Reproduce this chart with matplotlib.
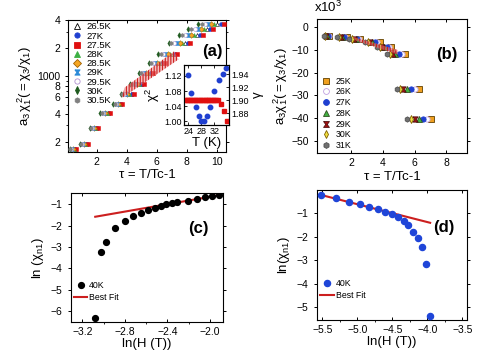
import matplotlib.pyplot as plt
from matplotlib.path import Path
from matplotlib.lines import Line2D
from matplotlib.ticker import FixedLocator, NullFormatter, MultipleLocator

plt.rcParams['font.family'] = ['Liberation Sans', 'DejaVu Sans']
plt.rcParams['mathtext.fontset'] = 'custom'
plt.rcParams['mathtext.rm'] = 'Liberation Sans'
plt.rcParams['mathtext.it'] = 'Liberation Sans:italic'
plt.rcParams['mathtext.bf'] = 'Liberation Sans:bold'
plt.rcParams['hatch.linewidth'] = 0.8

# ---------------- data ----------------
# (a) a3*chi1^2 vs tau, shared levels, one tau list per temperature
a_levels = [167, 192, 284, 407, 512, 648, 836, 1084, 1380, 1750, 2300, 2750, 3190, 3620]
tau_a = {
    '26.5K': [0.51, 1.26, 1.94, 2.73, 3.55, 4.26, 4.92, 5.52, 6.29, 7.06, 7.88, 8.65, 9.36, 10.04],
    '27K':   [0.57, 1.32, 2.01, 2.82, 3.63, 4.37, 5.04, 5.64, 6.43, 7.22, 8.06, 8.85, 9.57, 10.25],
    '27.5K': [0.62, 1.38, 2.08, 2.90, 3.70, 4.48, 5.16, 5.76, 6.57, 7.38, 8.24, 9.05, 9.78, 10.46],
    '28K':   [0.46, 1.20, 1.87, 2.65, 3.48, 4.15, 4.80, 5.40, 6.15, 6.90, 7.70, 8.45, 9.15, 9.83],
    '28.5K': [0.40, 1.14, 1.80, 2.56, 3.40, 4.04, 4.68, 5.28, 6.01, 6.74, 7.52, 8.25, 8.94, 9.62],
    '29K':   [0.35, 1.08, 1.73, 2.48, 3.33, 3.93, 4.56, 5.16, 5.87, 6.58, 7.34, 8.05, 8.73, 9.41],
    '29.5K': [0.29, 1.02, 1.66, 2.39, 3.25, 3.82, 4.44, 5.04, 5.73, 6.42, 7.16, 7.85, 8.52, 9.20],
    '30K':   [0.18, 0.90, 1.52, 2.22, 3.10, 3.60, 4.20, 4.80, 5.45, 6.10, 6.80, 7.45, 8.10, 8.78],
    '30.5K': [0.24, 0.96, 1.59, 2.31, 3.18, 3.71, 4.32, 4.92, 5.59, 6.26, 6.98, 7.65, 8.31, 8.99],
}
band_a_tau = [3.68, 3.85, 7.15, 7.45]
band_a_val = [590, 760, 1850, 1520]

# (a) inset: chi^2 and gamma vs T
inset_T_chi = [24.0, 25.0, 26.4, 27.2, 28.0, 28.8, 29.6, 30.8, 32.0, 33.4, 34.6, 35.6]
inset_chi = [1.123, 1.075, 1.038, 1.015, 1.002, 1.002, 1.015, 1.039, 1.081, 1.109, 1.125, 1.141]
inset_T_gam = [23.0, 23.5, 24.0, 24.5, 25.0, 25.5, 26.0, 26.5, 27.0, 27.5, 28.0, 28.5,
               29.0, 29.5, 30.0, 30.5, 31.0, 31.5, 32.0, 32.5, 33.0, 34.0, 34.8, 35.8]
inset_gam = [1.900] * 21 + [1.895, 1.883, 1.868]

# (b) a3*chi1^2 (x10^3) vs tau
b_levels = [-3.8, -4.5, -5.0, -6.5, -8.8, -11.8, -27.2, -40.4]
tau_b = {
    '25K': [0.65, 1.75, 2.60, 3.80, 4.55, 5.40, 6.25, 7.05],
    '26K': [0.60, 1.65, 2.50, 3.65, 4.40, 5.20, 6.00, 6.80],
    '27K': [0.55, 1.55, 2.40, 3.50, 4.25, 5.00, 5.75, 6.55],
    '28K': [0.50, 1.45, 2.30, 3.35, 4.10, 4.80, 5.50, 6.30],
    '29K': [0.45, 1.35, 2.20, 3.20, 3.95, 4.65, 5.30, 6.05],
    '30K': [0.40, 1.25, 2.05, 3.05, 3.80, 4.45, 5.10, 5.80],
    '31K': [0.30, 1.10, 1.90, 2.90, 3.65, 4.25, 4.90, 5.55],
}
band_b_tau = [2.10, 4.95, 4.95, 2.30]
band_b_val = [-4.2, -10.0, -12.0, -5.8]

# (c) ln(chi_n1) vs ln(H), 40K
lnH_c = [-3.08, -3.03, -2.98, -2.89, -2.80, -2.72, -2.65, -2.58, -2.52,
         -2.46, -2.41, -2.36, -2.31, -2.21, -2.12, -2.05, -1.98, -1.91]
lnchi_c = [-6.33, -3.25, -2.75, -2.10, -1.78, -1.55, -1.39, -1.27, -1.16,
           -1.06, -1.00, -0.95, -0.90, -0.83, -0.75, -0.67, -0.60, -0.55]
fit_c_x = [-3.08, -1.90]
fit_c_y = [-1.58, -0.56]

# (d) ln(chi_n1) vs ln(H), 40K
lnH_d = [-5.52, -5.30, -5.12, -4.96, -4.83, -4.71, -4.61, -4.51,
         -4.42, -4.34, -4.27, -4.20, -4.14, -4.07, -4.02, -3.96]
lnchi_d = [-0.21, -0.36, -0.50, -0.61, -0.71, -0.83, -0.93, -1.04,
           -1.17, -1.33, -1.50, -1.79, -2.07, -2.43, -3.14, -5.40]
fit_d_x = [-5.52, -3.96]
fit_d_y = [-0.21, -1.40]

# ---------------- styles ----------------
hourglass = Path([(-1, 1), (1, 1), (0.25, 0), (1, -1), (-1, -1), (-0.25, 0), (-1, 1)])
sty_a = {
    '26.5K': dict(marker='^', mfc='white', mec='black'),
    '27K':   dict(marker='o', mfc='#1f3fd0', mec='#1f3fd0'),
    '27.5K': dict(marker='s', mfc='#e01010', mec='#e01010'),
    '28K':   dict(marker='^', mfc='#3cb043', mec='#3cb043'),
    '28.5K': dict(marker='D', mfc='#f5a623', mec='#a06000'),
    '29K':   dict(marker=hourglass, mfc='#2a8ad8', mec='#2a8ad8'),
    '29.5K': dict(marker='o', mfc='white', mec='#b090d0'),
    '30K':   dict(marker='d', mfc='#1e5a1e', mec='#1e5a1e'),
    '30.5K': dict(marker='h', mfc='#808080', mec='#808080'),
}
sty_b = {
    '25K': dict(marker='s', mfc='#f0a020', mec='#604000'),
    '26K': dict(marker='o', mfc='white', mec='#c0a0e0'),
    '27K': dict(marker='o', mfc='#1f3fd0', mec='#1f3fd0'),
    '28K': dict(marker='^', mfc='#40b040', mec='#305020'),
    '29K': dict(marker=hourglass, mfc='#a01010', mec='#501010'),
    '30K': dict(marker='d', mfc='#f0e040', mec='#806000'),
    '31K': dict(marker='h', mfc='#707070', mec='#505050'),
}
red = '#cc1f1f'
band_face = (0.93, 0.55, 0.55, 0.55)
tick_fs = 7.5
lab_fs = 9.5


def style_axes(ax):
    for s in ax.spines.values():
        s.set_linewidth(0.8)
    ax.tick_params(labelsize=tick_fs, length=2.5, width=0.7, top=True, right=True, direction='in')
    ax.tick_params(axis='y', which='both', left=True, direction='out')
    ax.tick_params(which='minor', length=1.5, width=0.6)
    ax.tick_params(axis='y', which='both', right=True)


fig = plt.figure(figsize=(4.85, 3.64), dpi=100)

# ---------------- (a) ----------------
ax_a = fig.add_axes([0.141, 0.583, 0.326, 0.362])
for name, xs in tau_a.items():
    ax_a.plot(xs, a_levels, ls='none', ms=2.8, mew=0.4, zorder=3, **sty_a[name])
ax_a.fill(band_a_tau, band_a_val, facecolor=band_face, edgecolor=red,
          hatch='||||||', lw=0, zorder=4)
ax_a.set_yscale('log')
ax_a.set_xlim(0.1, 10.65)
ax_a.set_ylim(157, 4000)
ax_a.yaxis.set_major_locator(FixedLocator([200, 400, 600, 800, 1000, 2000, 4000]))
ax_a.set_yticklabels(['2', '4', '6', '8', '1000', '2', '4'])
ax_a.yaxis.set_minor_locator(FixedLocator([300, 500, 700, 900, 3000]))
ax_a.yaxis.set_minor_formatter(NullFormatter())
ax_a.set_xticks([2, 4, 6, 8, 10])
style_axes(ax_a)
ax_a.set_xlabel('τ = T/Tc-1', fontsize=lab_fs, labelpad=2)
ax_a.set_ylabel(r'$\mathrm{a_3\,χ_1^{\,2}(= χ_3/χ_1)}$', fontsize=lab_fs, labelpad=2)
ax_a.text(0.91, 0.76, '(a)', transform=ax_a.transAxes, fontsize=12, fontweight='bold',
          ha='center', va='center')
hand_a = [Line2D([], [], ls='none', ms=3.8, mew=0.6, **sty_a[n]) for n in tau_a]
ax_a.legend(hand_a, list(tau_a), loc='upper left', bbox_to_anchor=(0.0, 1.01), fontsize=6.8,
            frameon=False, handlelength=1.0, handletextpad=0.5, labelspacing=0.02,
            borderaxespad=0.2, borderpad=0.2)

# inset
ax_i = fig.add_axes([0.380, 0.657, 0.093, 0.165])
ax_i.plot(inset_T_chi, inset_chi, 'o', color='#1f3fd0', ms=3.2, zorder=3)
ax_i.set_xlim(22.8, 36.6)
ax_i.set_ylim(0.991, 1.149)
ax_i.set_xticks([24, 28, 32])
ax_i.set_yticks([1.00, 1.04, 1.08, 1.12])
ax_i.set_yticklabels(['1.00', '1.04', '1.08', '1.12'])
for s in ax_i.spines.values():
    s.set_linewidth(0.8)
ax_i.tick_params(labelsize=6.5, length=2, width=0.6, direction='in', top=True, pad=1.5)
ax_i.set_xlabel('T (K)', fontsize=lab_fs, labelpad=1)
ax_i.set_ylabel('χ$^2$', fontsize=lab_fs, labelpad=2)
ax_j = ax_i.twinx()
ax_j.plot(inset_T_gam, inset_gam, 's', color='#e01010', ms=3.0, zorder=2)
ax_j.set_ylim(1.862, 1.955)
ax_j.set_yticks([1.88, 1.90, 1.92, 1.94])
ax_j.tick_params(labelsize=6.5, length=2, width=0.6, direction='in', pad=1.5)
ax_j.set_ylabel('γ', fontsize=lab_fs, labelpad=2)

# ---------------- (b) ----------------
ax_b = fig.add_axes([0.654, 0.579, 0.308, 0.368])
for name, xs in tau_b.items():
    ax_b.plot(xs, b_levels, ls='none', ms=3.8, mew=0.6, zorder=3, **sty_b[name])
ax_b.fill(band_b_tau, band_b_val, facecolor=band_face, edgecolor=red,
          hatch='||||||', lw=0, zorder=4)
ax_b.set_xlim(-0.12, 9.27)
ax_b.set_ylim(-55.5, 3.5)
ax_b.set_xticks([2, 4, 6, 8])
ax_b.set_yticks([0, -10, -20, -30, -40, -50])
style_axes(ax_b)
ax_b.set_xlabel('τ = T/Tc-1', fontsize=lab_fs, labelpad=2)
ax_b.set_ylabel(r'$\mathrm{a_3χ_1^{\,2}(=χ_3/χ_1)}$', fontsize=lab_fs, labelpad=1)
fig.text(0.648, 0.958, r'x10$^3$', fontsize=lab_fs, ha='left', va='bottom')
ax_b.text(0.87, 0.74, '(b)', transform=ax_b.transAxes, fontsize=12, fontweight='bold',
          ha='center', va='center')
hand_b = [Line2D([], [], ls='none', ms=4.2, mew=0.6, **sty_b[n]) for n in tau_b]
ax_b.legend(hand_b, list(tau_b), loc='upper left', bbox_to_anchor=(0.02, 0.585), fontsize=6.3,
            frameon=False, handlelength=1.0, handletextpad=0.6, labelspacing=0.2,
            borderaxespad=0.0, borderpad=0.2)

# ---------------- (c) ----------------
ax_c = fig.add_axes([0.146, 0.115, 0.313, 0.354])
ax_c.plot(lnH_c, lnchi_c, 'o', color='black', ms=4.2, label='40K', zorder=3)
ax_c.plot(fit_c_x, fit_c_y, '-', color=red, lw=1.5, label='Best Fit', zorder=2)
ax_c.set_xlim(-3.31, -1.88)
ax_c.set_ylim(-6.52, -0.48)
ax_c.set_xticks([-3.2, -2.8, -2.4, -2.0])
ax_c.xaxis.set_minor_locator(MultipleLocator(0.2))
ax_c.set_yticks([-6, -5, -4, -3, -2, -1])
style_axes(ax_c)
ax_c.set_xlabel('ln(H (T))', fontsize=lab_fs, labelpad=1)
ax_c.set_ylabel(r'$\mathrm{ln\ (χ_{n1})}$', fontsize=lab_fs, labelpad=3)
ax_c.text(0.84, 0.73, '(c)', transform=ax_c.transAxes, fontsize=12, fontweight='bold',
          ha='center', va='center')
ax_c.legend(loc='lower left', bbox_to_anchor=(0.0, 0.13), fontsize=6.3, frameon=False,
            handlelength=1.5, handletextpad=0.2, labelspacing=0.3, borderaxespad=0.0)

# ---------------- (d) ----------------
ax_d = fig.add_axes([0.653, 0.121, 0.309, 0.357])
ax_d.plot(lnH_d, lnchi_d, 'o', color='#1f45d8', ms=4.4, label='40K', zorder=3)
ax_d.plot(fit_d_x, fit_d_y, '-', color=red, lw=1.5, label='Best Fit', zorder=2)
ax_d.set_xlim(-5.58, -3.44)
ax_d.set_ylim(-5.55, 0.0)
ax_d.set_xticks([-5.5, -5.0, -4.5, -4.0, -3.5])
ax_d.xaxis.set_minor_locator(MultipleLocator(0.25))
ax_d.set_yticks([-5, -4, -3, -2, -1])
style_axes(ax_d)
ax_d.set_xlabel('ln(H (T))', fontsize=lab_fs, labelpad=1)
ax_d.set_ylabel(r'$\mathrm{ln(χ_{n1})}$', fontsize=lab_fs, labelpad=3)
ax_d.text(0.85, 0.71, '(d)', transform=ax_d.transAxes, fontsize=12, fontweight='bold',
          ha='center', va='center')
ax_d.legend(loc='lower left', bbox_to_anchor=(0.0, 0.13), fontsize=6.3, frameon=False,
            handlelength=1.6, handletextpad=0.2, labelspacing=0.3, borderaxespad=0.0)

fig.savefig('out.png', dpi=100)
